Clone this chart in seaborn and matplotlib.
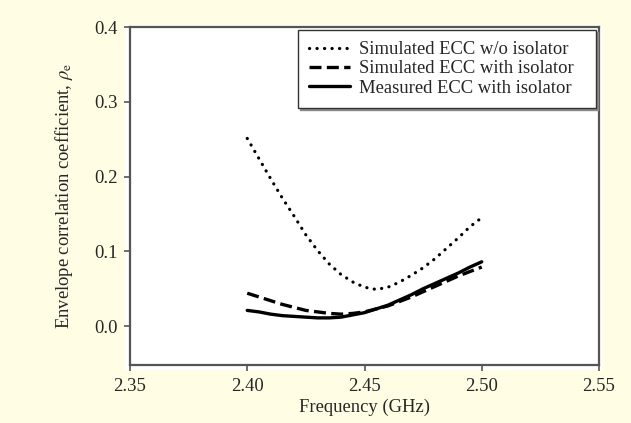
import numpy as np
import pandas as pd
import matplotlib.pyplot as plt
from matplotlib.patches import Rectangle
import seaborn as sns

# ── Data ──────────────────────────────────────────────────────────────────
freq = [2.400, 2.405, 2.410, 2.415, 2.420, 2.425, 2.430, 2.435, 2.440, 2.445,
        2.450, 2.455, 2.460, 2.465, 2.470, 2.475, 2.480, 2.485, 2.490, 2.495, 2.500]
ecc_sim_wo = [0.251, 0.224, 0.197, 0.171, 0.147, 0.122, 0.101, 0.083, 0.069, 0.059,
              0.052, 0.049, 0.052, 0.059, 0.068, 0.078, 0.090, 0.104, 0.118, 0.133, 0.145]
ecc_sim_iso = [0.044, 0.039, 0.034, 0.029, 0.025, 0.021, 0.019, 0.017, 0.016, 0.017,
               0.019, 0.023, 0.027, 0.033, 0.039, 0.046, 0.053, 0.060, 0.067, 0.073, 0.079]
ecc_meas_iso = [0.021, 0.019, 0.016, 0.014, 0.013, 0.012, 0.011, 0.011, 0.012, 0.015,
                0.018, 0.023, 0.028, 0.035, 0.042, 0.050, 0.057, 0.064, 0.071, 0.079, 0.086]

labels = ['Simulated ECC w/o isolator',
          'Simulated ECC with isolator',
          'Measured ECC with isolator']
xticks = [2.35, 2.40, 2.45, 2.50, 2.55]
yticks = [0.0, 0.1, 0.2, 0.3, 0.4]

df = pd.DataFrame({
    'freq': freq * 3,
    'ecc': ecc_sim_wo + ecc_sim_iso + ecc_meas_iso,
    'series': [labels[0]] * len(freq) + [labels[1]] * len(freq) + [labels[2]] * len(freq),
})

# ── Style ─────────────────────────────────────────────────────────────────
sns.set_style('white')
plt.rcParams['font.family'] = ['Liberation Serif', 'DejaVu Serif']
plt.rcParams['mathtext.fontset'] = 'stix'
fs = 13.4

bg = '#FFFDE4'
W, H = 631, 423
fig = plt.figure(figsize=(W / 100, H / 100), dpi=100, facecolor=bg)
# white plot panel, a little larger than the axes box
fig.patches.append(Rectangle((125 / W, 1 - 370 / H), 477 / W, 345 / H,
                             transform=fig.transFigure, facecolor='white',
                             edgecolor='none', zorder=-10))
ax = fig.add_axes([130 / W, 1 - 365 / H, 469 / W, 338 / H])
ax.set_facecolor('white')

styles = {labels[0]: (0, (0.05, 2.3)), labels[1]: (0, (3.6, 1.6)), labels[2]: '-'}
widths = {labels[0]: 2.3, labels[1]: 2.4, labels[2]: 2.4}
for lab in labels:
    sub = df[df['series'] == lab]
    sns.lineplot(data=sub, x='freq', y='ecc', ax=ax, color='black',
                 linestyle=styles[lab], linewidth=widths[lab], label=lab,
                 dash_capstyle='round' if lab == labels[0] else 'butt')

ax.set_xlim(2.35, 2.55)
ax.set_ylim(-0.052, 0.4)
ax.set_xticks(xticks)
ax.set_xticklabels([f'{t:.2f}' for t in xticks])
ax.set_yticks(yticks)
ax.set_yticklabels([f'{t:.1f}' for t in yticks])
ax.tick_params(axis='both', direction='out', length=4, width=1.2, color='#555555',
               labelsize=fs, pad=5, bottom=True, left=True)
for sp in ax.spines.values():
    sp.set_color('#555555')
    sp.set_linewidth(1.6)

ax.set_xlabel('Frequency (GHz)', fontsize=fs, labelpad=3)
ax.set_ylabel(r'Envelope correlation coefficient, $\rho_{\rm e}$', fontsize=fs, labelpad=14)

# legend box: roughly 298..596 px wide, top at 30 px
leg = ax.legend(loc='upper left', bbox_to_anchor=(0.358, 0.5, 0.635, 0.491),
                mode='expand', borderaxespad=0, fontsize=fs,
                frameon=True, fancybox=False,
                shadow={'ox': 1.5, 'oy': -1.5, 'color': '#8a8a8a', 'alpha': 1},
                handlelength=2.2, handletextpad=0.5, labelspacing=0.12,
                borderpad=0.6)
leg.get_frame().set_edgecolor('#333333')
leg.get_frame().set_linewidth(1.0)

fig.savefig('out.png', dpi=100, facecolor=bg)
